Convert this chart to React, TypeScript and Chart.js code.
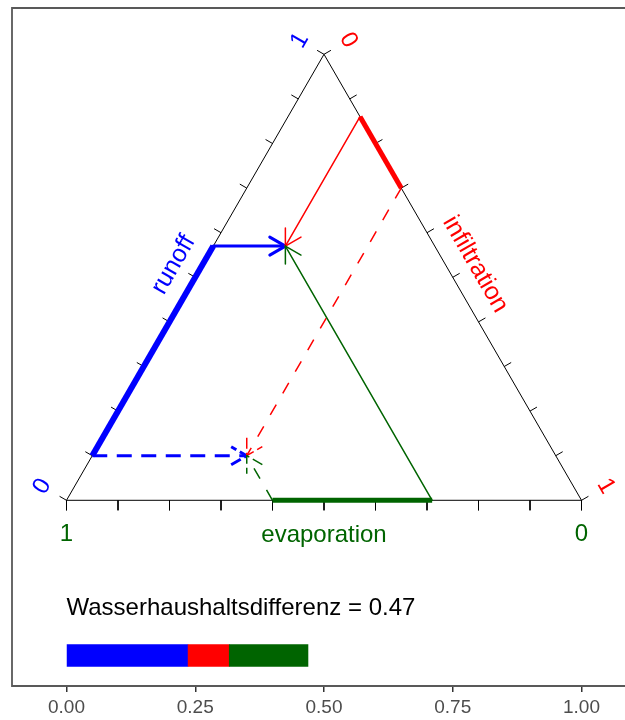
import React, { useEffect, useRef } from "react";
import { Chart, registerables } from "chart.js";

Chart.register(...registerables);

// ---- data ----
const tickValues = [0, 0.1, 0.2, 0.3, 0.4, 0.5, 0.6, 0.7, 0.8, 0.9, 1];
const axisNames = ["runoff", "infiltration", "evaporation"];
const axisColors = ["#0000FF", "#FF0000", "#006400"];
// shares: [runoff, infiltration, evaporation]
const stateBefore = [0.1, 0.3, 0.6];
const stateAfter = [0.57, 0.14, 0.29];
const xAxisTicks = [0, 0.25, 0.5, 0.75, 1];
const diffLabel = "Wasserhaushaltsdifferenz";

// ---- geometry helpers ----
const PX = 515; // pixels per data unit (equal aspect)
const X_MIN = -54.5 / PX;
const X_MAX = X_MIN + 613 / PX;
const Y_MAX = 492.3 / PX;
const Y_MIN = Y_MAX - 678 / PX;
const TITLE_Y = -0.2096;
const BAR_TOP = -0.2796;
const BAR_BOTTOM = -0.3231;

const S3 = Math.sqrt(3) / 2;
type P = { x: number; y: number };
const GAP: P = { x: NaN, y: NaN };
const onLeft = (r: number): P => ({ x: 0.5 * r, y: S3 * r });
const onRight = (i: number): P => ({ x: 0.5 + 0.5 * i, y: S3 * (1 - i) });
const onBase = (e: number): P => ({ x: 1 - e, y: 0 });
const tern = (s: number[]): P => ({ x: s[1] + 0.5 * s[0], y: S3 * s[0] });

function tickSegments(pos: (t: number) => P, dx: number, dy: number, lenPx: number): P[] {
  const out: P[] = [];
  tickValues.forEach((t) => {
    const p = pos(t);
    out.push(p, { x: p.x + (dx * lenPx) / PX, y: p.y + (dy * lenPx) / PX }, GAP);
  });
  return out;
}

function arrowHead(from: P, to: P, lenPx: number): P[] {
  const dx = from.x - to.x;
  const dy = from.y - to.y;
  const d = Math.hypot(dx, dy);
  const ux = dx / d;
  const uy = dy / d;
  const L = lenPx / PX;
  const rot = (a: number): P => ({
    x: to.x + L * (ux * Math.cos(a) - uy * Math.sin(a)),
    y: to.y + L * (ux * Math.sin(a) + uy * Math.cos(a)),
  });
  return [rot(Math.PI / 6), to, rot(-Math.PI / 6)];
}

function line(data: P[], color: string, width: number, dash: number[] = [], cap: string = "round", join: string = "round") {
  return {
    data,
    borderColor: color,
    backgroundColor: color,
    borderWidth: width,
    borderDash: dash,
    borderCapStyle: cap,
    borderJoinStyle: join,
    pointRadius: 0,
    pointHoverRadius: 0,
    fill: false,
    tension: 0,
    spanGaps: false,
  } as any;
}

function rect(x0: number, x1: number, color: string) {
  return {
    data: [
      { x: x0, y: BAR_TOP },
      { x: x1, y: BAR_TOP },
    ],
    borderColor: "rgba(0,0,0,0)",
    borderWidth: 0,
    backgroundColor: color,
    pointRadius: 0,
    fill: { value: BAR_BOTTOM },
    tension: 0,
  } as any;
}

function buildDatasets() {
  const A = onBase(1);
  const B = onBase(0);
  const C = onLeft(1);
  const pB = tern(stateBefore);
  const pA = tern(stateAfter);
  const c30 = Math.cos(Math.PI / 6);

  const ds: any[] = [];
  // triangle
  ds.push(line([A, B, C, A], "#000000", 1, [], "butt", "miter"));
  // ticks
  ds.push(line(tickSegments(onBase, 0, -1, 10), "#000000", 1, [], "butt"));
  ds.push(line(tickSegments(onLeft, -c30, 0.5, 8), "#000000", 1, [], "butt"));
  ds.push(line(tickSegments(onRight, c30, 0.5, 8), "#000000", 1, [], "butt"));

  // change segments along the sides
  ds.push(line([onLeft(stateBefore[0]), onLeft(stateAfter[0])], axisColors[0], 6, [], "butt"));
  ds.push(line([onRight(stateAfter[1]), onRight(stateBefore[1])], axisColors[1], 5, [], "butt"));
  ds.push(line([onBase(stateAfter[2]), onBase(stateBefore[2])], axisColors[2], 5, [], "butt"));

  // arrows
  const arrows: [P, P, string, number, number[]][] = [
    [onLeft(stateAfter[0]), pA, axisColors[0], 3, []],
    [onLeft(stateBefore[0]), pB, axisColors[0], 3, [15, 9.5]],
    [onRight(stateAfter[1]), pA, axisColors[1], 1.5, []],
    [onRight(stateBefore[1]), pB, axisColors[1], 1.5, [12, 13]],
    [onBase(stateAfter[2]), pA, axisColors[2], 1.5, []],
    [onBase(stateBefore[2]), pB, axisColors[2], 1.5, [12, 13]],
  ];
  arrows.forEach(([f, t, col, w, dash]) => {
    ds.push(line([f, t], col, w, dash, dash.length ? "butt" : "round"));
    ds.push(line(arrowHead(f, t, 18), col, w, dash.length ? [11, 4] : [], dash.length ? "butt" : "round", "round"));
  });

  // difference bar (each part overlaps the next one by 1px to avoid seams)
  const parts = [0, 1, 2].map((k) => Math.abs(stateAfter[k] - stateBefore[k]) / 2);
  let acc = 0;
  parts.forEach((v, k) => {
    const overlap = k < parts.length - 1 ? 1 / PX : 0;
    ds.push(rect(acc, acc + v + overlap, axisColors[k]));
    acc += v;
  });

  ds.forEach((d, i) => (d.order = -i));
  return ds;
}

const FONT = '"Liberation Sans", Arial, Helvetica, sans-serif';

const overlay = {
  id: "overlay",
  beforeDatasetsDraw(chart: any) {
    const { ctx, chartArea: ca } = chart;
    ctx.save();
    ctx.strokeStyle = "#595959";
    ctx.lineWidth = 1.8;
    ctx.beginPath();
    ctx.moveTo(chart.width + 5, ca.top);
    ctx.lineTo(ca.left, ca.top);
    ctx.lineTo(ca.left, ca.bottom);
    ctx.lineTo(chart.width + 5, ca.bottom);
    ctx.stroke();
    ctx.restore();
  },
  afterDatasetsDraw(chart: any) {
    const { ctx } = chart;
    const xs = chart.scales.x;
    const ys = chart.scales.y;
    const px = (p: P) => ({ x: xs.getPixelForValue(p.x), y: ys.getPixelForValue(p.y) });
    const c30 = Math.cos(Math.PI / 6);
    const nL = { x: -c30, y: -0.5 };
    const nR = { x: c30, y: -0.5 };
    const off = (p: P, n: P, d: number) => ({ x: p.x + n.x * d, y: p.y + n.y * d });
    const text = (s: string, p: P, ang: number, color: string, size: number, align: CanvasTextAlign = "center") => {
      ctx.save();
      ctx.translate(p.x, p.y);
      ctx.rotate(ang);
      ctx.fillStyle = color;
      ctx.font = `${size}px ${FONT}`;
      ctx.textAlign = align;
      ctx.textBaseline = "middle";
      ctx.fillText(s, 0, 0);
      ctx.restore();
    };
    const t0 = tickValues[0];
    const t1 = tickValues[tickValues.length - 1];
    const down = { x: 0, y: 1 };

    // runoff (left side)
    text(axisNames[0], off(px(onLeft(0.5)), nL, 25), -Math.PI / 3, axisColors[0], 25);
    text(String(t0), off(px(onLeft(t0)), nL, 28), -Math.PI / 3, axisColors[0], 24);
    text(String(t1), off(px(onLeft(t1)), nL, 28), -Math.PI / 3, axisColors[0], 24);
    // infiltration (right side)
    text(axisNames[1], off(px(onRight(0.5)), nR, 26), Math.PI / 3, axisColors[1], 25);
    text(String(t0), off(px(onRight(t0)), nR, 28), Math.PI / 3, axisColors[1], 24);
    text(String(t1), off(px(onRight(t1)), nR, 28), Math.PI / 3, axisColors[1], 24);
    // evaporation (base)
    text(axisNames[2], off(px(onBase(0.5)), down, 35), 0, axisColors[2], 24);
    text(String(t1), off(px(onBase(t1)), down, 34), 0, axisColors[2], 24);
    text(String(t0), off(px(onBase(t0)), down, 34), 0, axisColors[2], 24);

    // difference title
    const diff = [0, 1, 2].reduce((s, k) => s + Math.abs(stateAfter[k] - stateBefore[k]), 0) / 2;
    text(`${diffLabel} = ${diff.toFixed(2)}`, px({ x: 0, y: TITLE_Y }), 0, "#000000", 24, "left");
  },
};

export default function App() {
  const ref = useRef<HTMLCanvasElement>(null);
  useEffect(() => {
    if (!ref.current) return;
    const chart = new Chart(ref.current, {
      type: "line",
      data: { datasets: buildDatasets() },
      options: {
        animation: false,
        responsive: false,
        events: [],
        layout: { padding: { left: 12, top: 8, right: 0, bottom: 0 } },
        plugins: {
          legend: { display: false },
          tooltip: { enabled: false },
        },
        scales: {
          x: {
            type: "linear",
            min: X_MIN,
            max: X_MAX,
            afterBuildTicks: (s: any) => {
              s.ticks = xAxisTicks.map((v) => ({ value: v }));
            },
            afterFit: (s: any) => {
              s.height = 34;
            },
            ticks: {
              autoSkip: false,
              maxRotation: 0,
              padding: 4,
              color: "#4D4D4D",
              font: { family: FONT, size: 19 },
              callback: (v: any) => Number(v).toFixed(2),
            },
            grid: {
              display: true,
              drawOnChartArea: false,
              drawTicks: true,
              tickLength: 6,
              color: "#333333",
              lineWidth: 1.5,
            },
            border: { display: false },
          },
          y: {
            type: "linear",
            min: Y_MIN,
            max: Y_MAX,
            display: false,
          },
        },
      } as any,
      plugins: [overlay],
    });
    return () => chart.destroy();
  }, []);
  return (
    <div
      style={{
        position: "fixed",
        left: 0,
        top: 0,
        width: 625,
        height: 720,
        overflow: "hidden",
        background: "#ffffff",
      }}
    >
      <canvas ref={ref} width={625} height={720} style={{ display: "block", width: 625, height: 720 }} />
    </div>
  );
}
